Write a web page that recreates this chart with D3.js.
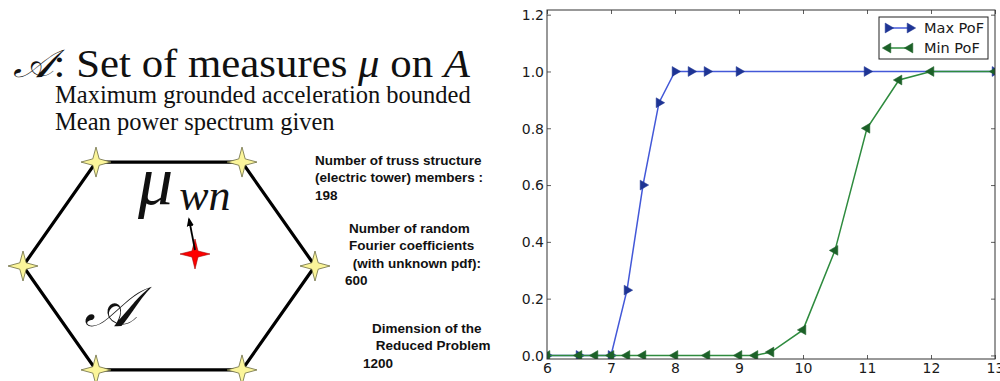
<!DOCTYPE html>
<html>
<head>
<meta charset="utf-8">
<script src="https://cdn.jsdelivr.net/npm/d3@7"></script>
<style>
  body { margin: 0; background: #fff; }
  svg { display: block; }
</style>
</head>
<body>
<svg id="fig"></svg>
<script>
var W = 1000, H = 381;

// --- chart data ---
var maxX = [6, 6.5, 7, 7.25, 7.5, 7.75, 8, 8.25, 8.5, 9, 11, 13];
var maxPoF = [0, 0, 0, 0.23, 0.6, 0.89, 1.0, 1.0, 1.0, 1.0, 1.0, 1.0];
var minX = [6, 6.5, 6.75, 7, 7.25, 7.5, 8, 8.5, 9, 9.25, 9.5, 10, 10.5, 11, 11.5, 12, 13];
var minPoF = [0, 0, 0, 0, 0, 0, 0, 0, 0, 0, 0.012, 0.09, 0.37, 0.8, 0.97, 1.0, 1.0];
var xTicks = [6, 7, 8, 9, 10, 11, 12, 13];
var yTicks = [0, 0.2, 0.4, 0.6, 0.8, 1.0, 1.2];
var seriesNames = ["Max PoF", "Min PoF"];

// --- left panel text ---
var infoBlocks = [
  ["Number of truss structure", "(electric tower) members :", "198"],
  ["Number of random", "Fourier coefficients", " (with unknown pdf):", "600"],
  ["Dimension of the", " Reduced Problem", "1200"]
];
var subLines = ["Maximum grounded acceleration bounded", "Mean power spectrum given"];

var svg = d3.select("#fig").attr("width", W).attr("height", H);
svg.append("rect").attr("width", W).attr("height", H).attr("fill", "#fff");

// ================= left diagram =================
var left = svg.append("g");

var title = left.append("text")
    .attr("x", 13).attr("y", 77)
    .attr("font-family", "Liberation Serif, serif")
    .attr("font-size", 39)
    .attr("textLength", 457)
    .attr("lengthAdjust", "spacingAndGlyphs")
    .attr("fill", "#111");
title.append("tspan").attr("font-style", "italic").text("\u{1D49C}");
title.append("tspan").text(": Set of measures ");
title.append("tspan").attr("font-style", "italic").text("\u03BC");
title.append("tspan").text(" on ");
title.append("tspan").attr("font-style", "italic").text("A");

left.selectAll("text.sub")
    .data(subLines)
    .enter().append("text")
    .attr("class", "sub")
    .attr("x", 55)
    .attr("y", function(d, i) { return 103 + i * 27; })
    .attr("font-family", "Liberation Serif, serif")
    .attr("font-size", 24.5)
    .attr("fill", "#111")
    .text(function(d) { return d; });

// hexagon
var hexC = [169, 266], hexRx = 146, hexRy = 120;
var hexPts = d3.range(6).map(function(i) {
    var a = Math.PI / 3 * i;
    return [hexC[0] + hexRx * Math.cos(a), hexC[1] + hexRy * Math.sin(a)];
});
left.append("path")
    .attr("d", d3.line()(hexPts) + "Z")
    .attr("fill", "none")
    .attr("stroke", "#000")
    .attr("stroke-width", 3.2)
    .attr("stroke-linejoin", "miter");

function starPath(r, w) {
    return "M0," + (-r) + "L" + w + "," + (-w) + "L" + r + ",0L" + w + "," + w +
        "L0," + r + "L" + (-w) + "," + w + "L" + (-r) + ",0L" + (-w) + "," + (-w) + "Z";
}

left.selectAll("path.star")
    .data(hexPts)
    .enter().append("path")
    .attr("class", "star")
    .attr("transform", function(d) { return "translate(" + d + ")"; })
    .attr("d", starPath(15, 3.2))
    .attr("fill", "#fbf59a")
    .attr("stroke", "#6b6b40")
    .attr("stroke-width", 0.8);

// red star + arrow
var redPos = [195, 254];
left.append("path")
    .attr("transform", "translate(" + redPos + ")")
    .attr("d", starPath(15, 3))
    .attr("fill", "#ff0000")
    .attr("stroke", "#a00000")
    .attr("stroke-width", 0.6);

svg.append("defs").append("marker")
    .attr("id", "ah").attr("viewBox", "0 0 10 10")
    .attr("refX", 8).attr("refY", 5)
    .attr("markerWidth", 5).attr("markerHeight", 5)
    .attr("orient", "auto")
    .append("path").attr("d", "M0,1L10,5L0,9Z").attr("fill", "#000");

left.append("line")
    .attr("x1", redPos[0]).attr("y1", redPos[1] - 4)
    .attr("x2", 189).attr("y2", 219)
    .attr("stroke", "#000").attr("stroke-width", 1.8)
    .attr("marker-end", "url(#ah)");

var mu = left.append("text")
    .attr("x", 138).attr("y", 204)
    .attr("font-family", "Liberation Serif, serif")
    .attr("font-style", "italic")
    .attr("fill", "#111");
mu.append("tspan").attr("font-size", 70).text("\u03BC");
mu.append("tspan").attr("font-size", 44).attr("dx", 6).attr("dy", 6).text("wn");

left.append("text")
    .attr("x", 84).attr("y", 326)
    .attr("font-family", "Liberation Serif, serif")
    .attr("font-style", "italic")
    .attr("font-size", 56)
    .attr("fill", "#111")
    .text("\u{1D49C}");

// info blocks
var blockPos = [[315, 165], [349, 233], [372, 333]];
var lineGap = 17.3;
infoBlocks.forEach(function(lines, b) {
    left.append("g").selectAll("text")
        .data(lines)
        .enter().append("text")
        .attr("x", function(d, i) {
            if (b === 1 && i === 3) return blockPos[b][0] - 4;
            if (b === 2 && i === 2) return blockPos[b][0] - 9;
            return blockPos[b][0];
        })
        .attr("y", function(d, i) { return blockPos[b][1] + i * lineGap; })
        .attr("font-family", "Liberation Sans, Arial, sans-serif")
        .attr("font-weight", "bold")
        .attr("font-size", 13.5)
        .attr("fill", "#111")
        .style("white-space", "pre")
        .text(function(d) { return d; });
});

// ================= right chart =================
var plot = {left: 547, right: 995, top: 10, bottom: 359};

var x = d3.scaleLinear().domain([6, 13]).range([plot.left, plot.right]);
var y = d3.scaleLinear().domain([-0.0125, 1.2165]).range([plot.bottom, plot.top]);

var chart = svg.append("g");
var tickFont = "DejaVu Sans, sans-serif";

chart.append("clipPath").attr("id", "clip")
    .append("rect")
    .attr("x", plot.left).attr("y", plot.top)
    .attr("width", plot.right - plot.left).attr("height", plot.bottom - plot.top);

// ticks (inside, all four sides)
var tickLen = 4;
var axB = chart.append("g").attr("transform", "translate(0," + plot.bottom + ")")
    .call(d3.axisBottom(x).tickValues(xTicks).tickSizeInner(-tickLen).tickSizeOuter(0).tickPadding(4)
        .tickFormat(d3.format("d")));
var axT = chart.append("g").attr("transform", "translate(0," + plot.top + ")")
    .call(d3.axisTop(x).tickValues(xTicks).tickSizeInner(-tickLen).tickSizeOuter(0).tickFormat(""));
var axL = chart.append("g").attr("transform", "translate(" + plot.left + ",0)")
    .call(d3.axisLeft(y).tickValues(yTicks).tickSizeInner(-tickLen).tickSizeOuter(0).tickPadding(4)
        .tickFormat(d3.format(".1f")));
var axR = chart.append("g").attr("transform", "translate(" + plot.right + ",0)")
    .call(d3.axisRight(y).tickValues(yTicks).tickSizeInner(-tickLen).tickSizeOuter(0).tickFormat(""));

[axB, axT, axL, axR].forEach(function(a) {
    a.select(".domain").remove();
    a.selectAll(".tick line").attr("stroke", "#333").attr("stroke-width", 0.8);
    a.selectAll("text")
        .attr("font-family", tickFont)
        .attr("font-size", 14)
        .attr("fill", "#1a1a1a");
});
axB.selectAll("text").attr("dy", null).attr("y", 14);
axL.selectAll("text").attr("dy", "0.34em").attr("x", -3);

var series = [
    {name: seriesNames[0], xs: maxX, ys: maxPoF, line: "#4358d8", mark: "#1e3494", rot: 90},
    {name: seriesNames[1], xs: minX, ys: minPoF, line: "#2e8b3e", mark: "#1c6128", rot: -90}
];

var lineGen = d3.line()
    .x(function(d) { return x(d[0]); })
    .y(function(d) { return y(d[1]); });
var tri = d3.symbol().type(d3.symbolTriangle).size(42);

var inner = chart.append("g").attr("clip-path", "url(#clip)");

// draw Max first, then Min on top
series.forEach(function(s) {
    var pts = s.xs.map(function(v, i) { return [v, s.ys[i]]; });
    inner.append("path")
        .attr("d", lineGen(pts))
        .attr("fill", "none")
        .attr("stroke", s.line)
        .attr("stroke-width", 1.5);
    inner.selectAll(null)
        .data(pts)
        .enter().append("path")
        .attr("d", tri)
        .attr("transform", function(d) {
            return "translate(" + x(d[0]) + "," + y(d[1]) + ") rotate(" + s.rot + ")";
        })
        .attr("fill", s.mark)
        .attr("stroke", s.mark)
        .attr("stroke-width", 0.5);
});

// frame
chart.append("rect")
    .attr("x", plot.left).attr("y", plot.top)
    .attr("width", plot.right - plot.left).attr("height", plot.bottom - plot.top)
    .attr("fill", "none").attr("stroke", "#333").attr("stroke-width", 1);

// legend
var leg = chart.append("g").attr("transform", "translate(879,17)");
leg.append("rect")
    .attr("width", 109).attr("height", 42)
    .attr("fill", "#fff").attr("stroke", "#222").attr("stroke-width", 1);
series.forEach(function(s, i) {
    var ly = 11 + i * 20;
    leg.append("line")
        .attr("x1", 9).attr("x2", 31).attr("y1", ly).attr("y2", ly)
        .attr("stroke", s.line).attr("stroke-width", 1.5);
    [9, 31].forEach(function(px) {
        leg.append("path")
            .attr("d", tri)
            .attr("transform", "translate(" + px + "," + ly + ") rotate(" + s.rot + ")")
            .attr("fill", s.mark).attr("stroke", s.mark).attr("stroke-width", 0.5);
    });
    leg.append("text")
        .attr("x", 45).attr("y", ly).attr("dy", "0.36em")
        .attr("font-family", tickFont).attr("font-size", 14.5)
        .attr("fill", "#1a1a1a")
        .text(s.name);
});
</script>
</body>
</html>
